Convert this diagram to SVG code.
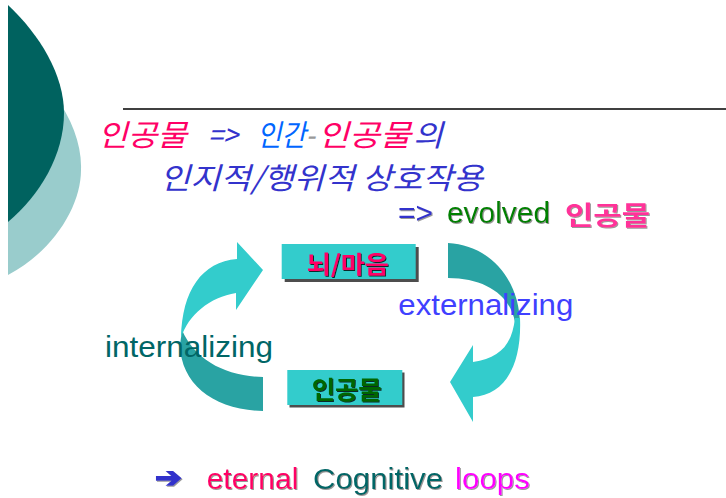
<svg xmlns="http://www.w3.org/2000/svg" width="726" height="498" viewBox="0 0 726 498">
<defs>
<style>
.hand { font-family: "Noto Sans CJK KR", sans-serif; font-style: italic; font-size: 30px; font-weight: normal; }
.kr { font-family: "Noto Sans CJK KR", sans-serif; }
.lat { font-family: "Liberation Sans", Arial, sans-serif; font-size: 30px; }
.box { fill: #33CCCC; }
.shadow { fill: #4D4D4D; }
.light { fill: #33CCCC; }
.dark { fill: #29A3A3; }
.boxtxt { font-family: "Noto Sans CJK KR", sans-serif; font-weight: bold; }
</style>
<filter id="ts" x="-5%" y="-20%" width="110%" height="140%">
<feDropShadow dx="1" dy="1" stdDeviation="0.3" flood-color="#999999"/>
</filter>
<filter id="bs" x="-5%" y="-20%" width="110%" height="140%">
<feDropShadow dx="1" dy="1" stdDeviation="0.2" flood-color="#000000" flood-opacity="0.8"/>
</filter>
</defs>
<rect x="0" y="0" width="726" height="498" fill="#FFFFFF"/>

<g id="decoration">
<path d="M8,90 L55,95 C72,120 82,145 81,170 C81,205 55,250 8,275 Z" fill="#99CCCC"/>
<path d="M8,5 C40,35 64,75 64,113 C64,155 40,195 8,222 Z" fill="#00625F"/>
<line x1="123" y1="109" x2="726" y2="109" stroke="#000000" stroke-width="1.5"/>
</g>

<g id="title">
<text class="hand" y="146"><tspan x="98" fill="#FF0066" textLength="89" lengthAdjust="spacingAndGlyphs">인공물</tspan><tspan x="208" fill="#3333CC" textLength="30" lengthAdjust="spacingAndGlyphs">=&gt;</tspan><tspan x="257" fill="#0066FF" textLength="58" lengthAdjust="spacingAndGlyphs">인간<tspan fill="#999999">-</tspan></tspan><tspan x="318" fill="#FF0066" textLength="93" lengthAdjust="spacingAndGlyphs">인공물</tspan><tspan x="413" fill="#3333CC" textLength="30" lengthAdjust="spacingAndGlyphs">의</tspan></text>
<text class="hand" y="189" x="160" fill="#3333CC" textLength="323" lengthAdjust="spacingAndGlyphs">인지적/행위적 상호작용</text>
</g>

<g id="evolved" filter="url(#ts)">
<text class="lat" y="223" x="398" fill="#3333CC" textLength="35" lengthAdjust="spacingAndGlyphs">=&gt;</text>
<text class="lat" y="223" x="447" fill="#008000" textLength="103" lengthAdjust="spacingAndGlyphs">evolved</text>
<text class="kr" y="225" x="565" font-size="26" font-weight="bold" fill="#FF3399" textLength="85" lengthAdjust="spacingAndGlyphs">인공물</text>
</g>

<g id="connectors">
<g id="internalizing-arrow">
<path class="dark" d="M182,330 C195,360 225,376 263,377 L263,411 C215,410 181,385 180,345 Z"/>
<path class="light" d="M263,270 L237,242 L237,259 C202,262 182,290 181,338 C188,315 210,297 236,293 L236,310 Z"/>
</g>
<g id="externalizing-arrow">
<path class="dark" d="M448,243 C490,245 520,280 520,325 L515,322 C510,295 485,278 448,278 Z"/>
<path class="light" d="M520,318 C522,365 505,395 473,397 L473,422 L450,382 L473,345 L473,362 C500,358 512,345 515,318 Z"/>
</g>
</g>

<g id="node-mind">
<rect class="shadow" x="284.7" y="247" width="134" height="35"/>
<rect class="box" x="281.7" y="244" width="134" height="35"/>
<text class="boxtxt" x="306.7" y="273" font-size="24" fill="#FF0066" filter="url(#bs)" textLength="82" lengthAdjust="spacingAndGlyphs">뇌/마음</text>
</g>

<g id="node-artifact">
<rect class="shadow" x="289.5" y="372.5" width="115" height="35"/>
<rect class="box" x="287.3" y="370" width="115" height="35"/>
<text class="boxtxt" x="311.7" y="399" font-size="25" fill="#006600" filter="url(#bs)" textLength="70" lengthAdjust="spacingAndGlyphs">인공물</text>
</g>

<g id="labels">
<text class="lat" x="398.3" y="315" fill="#4040FF" textLength="175" lengthAdjust="spacingAndGlyphs">externalizing</text>
<text class="lat" x="105" y="357" fill="#006666" textLength="168" lengthAdjust="spacingAndGlyphs">internalizing</text>
</g>

<g id="conclusion" filter="url(#ts)">
<text x="155" y="487" font-family="DejaVu Sans, sans-serif" font-weight="bold" font-size="28" fill="#3333CC" stroke="#3333CC" stroke-width="1.5" textLength="27" lengthAdjust="spacingAndGlyphs">➔</text>
<text class="lat" x="206.7" y="489" fill="#FF0066" textLength="91.6" lengthAdjust="spacingAndGlyphs">eternal</text>
<text class="lat" x="313" y="489" fill="#006666" textLength="130" lengthAdjust="spacingAndGlyphs">Cognitive</text>
<text class="lat" x="455" y="489" fill="#FF00FF" textLength="75" lengthAdjust="spacingAndGlyphs">loops</text>
</g>
</svg>
